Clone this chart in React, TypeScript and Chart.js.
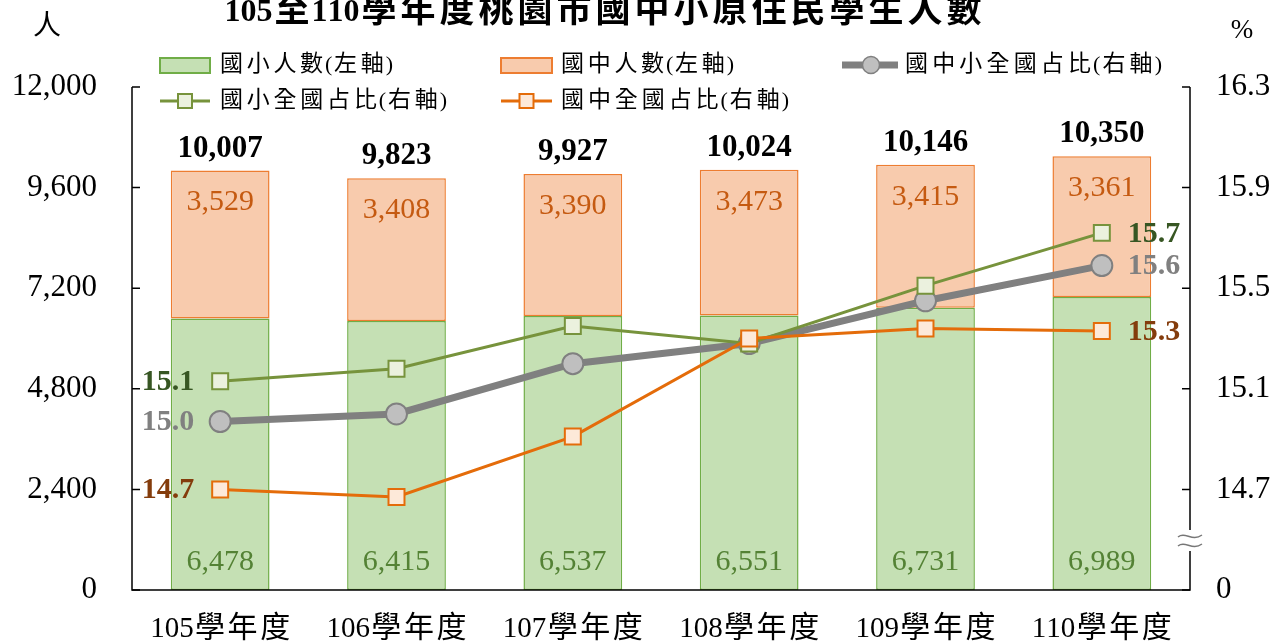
import React, { useEffect, useRef } from "react";
import { Chart, registerables } from "chart.js";
Chart.register(...registerables);

const categories = ["105學年度", "106學年度", "107學年度", "108學年度", "109學年度", "110學年度"];
const elementaryCounts = [6478, 6415, 6537, 6551, 6731, 6989];
const juniorCounts = [3529, 3408, 3390, 3473, 3415, 3361];
const totalShare = [14.97, 15.0, 15.2, 15.28, 15.45, 15.59];
const elementaryShare = [15.13, 15.18, 15.35, 15.28, 15.51, 15.72];
const juniorShare = [14.7, 14.67, 14.91, 15.3, 15.34, 15.33];
const leftTicks = [0, 2400, 4800, 7200, 9600, 12000];
const rightTicks = [14.3, 14.7, 15.1, 15.5, 15.9, 16.3];
const rightTickLabels = ["0", "14.7", "15.1", "15.5", "15.9", "16.3"];
const titleText = "105至110學年度桃園市國中小原住民學生人數";
const legendElementary = "國小人數(左軸)";
const legendJunior = "國中人數(左軸)";
const legendTotalShare = "國中小全國占比(右軸)";
const legendElemShare = "國小全國占比(右軸)";
const legendJuniorShare = "國中全國占比(右軸)";
const leftUnit = "人";
const rightUnit = "%";

const SERIF = '"Liberation Serif", "Noto Sans CJK TC"';

const isCJK = (c: string) => c.charCodeAt(0) > 0x2e80;

function drawSpaced(
  ctx: CanvasRenderingContext2D,
  text: string,
  x: number,
  y: number,
  target: number,
  align: "left" | "center",
  latinFont: string,
  cjkFont: string
) {
  const chars = Array.from(text);
  const fonts = chars.map((c) => (isCJK(c) ? cjkFont : latinFont));
  const widths = chars.map((c, i) => {
    ctx.font = fonts[i];
    return ctx.measureText(c).width;
  });
  const sum = widths.reduce((a, b) => a + b, 0);
  const weights: number[] = [];
  for (let i = 0; i < chars.length - 1; i++) {
    const a = isCJK(chars[i]);
    const b = isCJK(chars[i + 1]);
    weights.push(a && b ? 1 : a || b ? 0.5 : 0);
  }
  const wsum = weights.reduce((a, b) => a + b, 0);
  const unit = wsum > 0 ? (target - sum) / wsum : 0;
  let cx = align === "center" ? x - target / 2 : x;
  ctx.textAlign = "left";
  chars.forEach((c, i) => {
    ctx.font = fonts[i];
    ctx.fillText(c, cx, y);
    cx += widths[i] + (i < weights.length ? weights[i] * unit : 0);
  });
}

const fmt = (v: number) => v.toLocaleString("en-US");

export default function App() {
  const ref = useRef<HTMLCanvasElement | null>(null);
  useEffect(() => {
    document.body.style.margin = "0";
    const canvas = ref.current!;
    const totals = elementaryCounts.map((v, i) => v + juniorCounts[i]);

    const decor = {
      id: "decor",
      afterDatasetsDraw(chart: any) {
        const ctx: CanvasRenderingContext2D = chart.ctx;
        const area = chart.chartArea;
        const x = chart.scales.x;
        const y = chart.scales.y;
        const y1 = chart.scales.y1;
        ctx.save();
        ctx.textBaseline = "middle";

        // axes
        ctx.strokeStyle = "#000";
        ctx.lineWidth = 1.5;
        ctx.beginPath();
        ctx.moveTo(area.left, area.top);
        ctx.lineTo(area.left, area.bottom);
        ctx.lineTo(area.right, area.bottom);
        ctx.lineTo(area.right, area.top);
        ctx.stroke();
        ctx.beginPath();
        leftTicks.forEach((t) => {
          const py = y.getPixelForValue(t);
          ctx.moveTo(area.left, py);
          ctx.lineTo(area.left + 8, py);
        });
        rightTicks.forEach((t) => {
          const py = y1.getPixelForValue(t);
          ctx.moveTo(area.right, py);
          ctx.lineTo(area.right - 8, py);
        });
        ctx.stroke();

        // axis break
        ctx.fillStyle = "#fff";
        ctx.fillRect(area.right - 3, 530, 6, 21);
        ctx.strokeStyle = "#777";
        ctx.lineWidth = 1.5;
        [536, 545].forEach((by) => {
          ctx.beginPath();
          ctx.moveTo(area.right - 12, by + 1);
          ctx.bezierCurveTo(area.right - 5, by - 5, area.right + 2, by + 6, area.right + 12, by - 1);
          ctx.stroke();
        });

        // tick labels
        ctx.fillStyle = "#000";
        ctx.font = `31px ${SERIF}`;
        ctx.textAlign = "right";
        leftTicks.forEach((t) => {
          ctx.fillText(fmt(t), 97, y.getPixelForValue(t));
        });
        ctx.textAlign = "left";
        rightTicks.forEach((t, i) => {
          ctx.fillText(rightTickLabels[i], 1216, y1.getPixelForValue(t));
        });
        ctx.textAlign = "center";
        ctx.font = `28px ${SERIF}`;
        ctx.fillText(leftUnit, 47, 28);
        ctx.font = `27px ${SERIF}`;
        ctx.fillText(rightUnit, 1242, 31);

        // x labels
        categories.forEach((c, i) => {
          drawSpaced(ctx, c, x.getPixelForValue(i), 629, 140, "center", `29px ${SERIF}`, `30px ${SERIF}`);
        });

        // bar value labels
        categories.forEach((_, i) => {
          const px = x.getPixelForValue(i);
          ctx.textAlign = "center";
          ctx.font = `30px ${SERIF}`;
          ctx.fillStyle = "#548235";
          ctx.fillText(fmt(elementaryCounts[i]), px, y.getPixelForValue(0) - 28);
          ctx.fillStyle = "#C55A11";
          ctx.fillText(fmt(juniorCounts[i]), px, y.getPixelForValue(totals[i]) + 32);
          ctx.fillStyle = "#000";
          ctx.font = `bold 31px ${SERIF}`;
          ctx.fillText(fmt(totals[i]), px, y.getPixelForValue(totals[i]) - 22);
        });

        // line end labels
        ctx.font = `bold 30px ${SERIF}`;
        const last = categories.length - 1;
        const series = [
          { d: elementaryShare, c: "#375623" },
          { d: totalShare, c: "#808080" },
          { d: juniorShare, c: "#843C0C" },
        ];
        series.forEach((s) => {
          ctx.fillStyle = s.c;
          ctx.textAlign = "right";
          ctx.fillText(s.d[0].toFixed(1), x.getPixelForValue(0) - 26, y1.getPixelForValue(s.d[0]) + 1);
          ctx.textAlign = "left";
          ctx.fillText(s.d[last].toFixed(1), x.getPixelForValue(last) + 26, y1.getPixelForValue(s.d[last]) + 1);
        });

        // title
        ctx.fillStyle = "#000";
        drawSpaced(ctx, titleText, 603, 13, 757, "center", `bold 32px ${SERIF}`, `bold 35px ${SERIF}`);

        // legend
        const r1 = 65, r2 = 101;
        ctx.lineWidth = 2;
        ctx.fillStyle = "#C5E0B4";
        ctx.strokeStyle = "#70AD47";
        ctx.fillRect(160, r1 - 7, 50, 15);
        ctx.strokeRect(160, r1 - 7, 50, 15);
        ctx.fillStyle = "#F8CBAD";
        ctx.strokeStyle = "#ED7D31";
        ctx.fillRect(501, r1 - 7, 51, 15);
        ctx.strokeRect(501, r1 - 7, 51, 15);
        ctx.strokeStyle = "#808080";
        ctx.lineWidth = 7;
        ctx.beginPath();
        ctx.moveTo(842, r1);
        ctx.lineTo(898, r1);
        ctx.stroke();
        ctx.beginPath();
        ctx.arc(871, r1, 8.5, 0, Math.PI * 2);
        ctx.fillStyle = "#BFBFBF";
        ctx.fill();
        ctx.lineWidth = 1.5;
        ctx.stroke();
        const lineItem = (x0: number, x1: number, col: string, fill: string) => {
          ctx.strokeStyle = col;
          ctx.lineWidth = 3;
          ctx.beginPath();
          ctx.moveTo(x0, r2);
          ctx.lineTo(x1, r2);
          ctx.stroke();
          const cx = (x0 + x1) / 2;
          ctx.fillStyle = fill;
          ctx.lineWidth = 2;
          ctx.fillRect(cx - 7, r2 - 7, 14, 14);
          ctx.strokeRect(cx - 7, r2 - 7, 14, 14);
        };
        lineItem(160, 210, "#77933C", "#EBF1DE");
        lineItem(501, 552, "#E46C0A", "#FDE9D9");
        ctx.fillStyle = "#000";
        const lf = `22px ${SERIF}`;
        const cf = `23px ${SERIF}`;
        drawSpaced(ctx, legendElementary, 220, r1, 173, "left", lf, cf);
        drawSpaced(ctx, legendJunior, 561, r1, 173, "left", lf, cf);
        drawSpaced(ctx, legendTotalShare, 905, r1, 257, "left", lf, cf);
        drawSpaced(ctx, legendElemShare, 220, r2, 227, "left", lf, cf);
        drawSpaced(ctx, legendJuniorShare, 561, r2, 228, "left", lf, cf);

        ctx.restore();
      },
    };

    const chart = new Chart(canvas, {
      type: "bar",
      data: {
        labels: categories,
        datasets: [
          {
            type: "line",
            label: legendTotalShare,
            data: totalShare,
            yAxisID: "y1",
            borderColor: "#808080",
            borderWidth: 7,
            pointStyle: "circle",
            pointRadius: 10.5,
            pointBackgroundColor: "#BFBFBF",
            pointBorderColor: "#808080",
            pointBorderWidth: 2,
            order: 3,
          } as any,
          {
            type: "line",
            label: legendElemShare,
            data: elementaryShare,
            yAxisID: "y1",
            borderColor: "#77933C",
            borderWidth: 3,
            pointStyle: "rect",
            pointRadius: 11.3,
            pointBackgroundColor: "#EBF1DE",
            pointBorderColor: "#77933C",
            pointBorderWidth: 2,
            order: 2,
          },
          {
            type: "line",
            label: legendJuniorShare,
            data: juniorShare,
            yAxisID: "y1",
            borderColor: "#E46C0A",
            borderWidth: 3,
            pointStyle: "rect",
            pointRadius: 11.3,
            pointBackgroundColor: "#FDE9D9",
            pointBorderColor: "#E46C0A",
            pointBorderWidth: 2,
            order: 1,
          },
          {
            type: "bar",
            label: legendElementary,
            data: elementaryCounts,
            yAxisID: "y",
            backgroundColor: "#C5E0B4",
            borderColor: "#70AD47",
            borderWidth: 1.5,
            borderSkipped: false,
            categoryPercentage: 1,
            barPercentage: 0.56,
            stack: "s",
            order: 10,
          },
          {
            type: "bar",
            label: legendJunior,
            data: juniorCounts,
            yAxisID: "y",
            backgroundColor: "#F8CBAD",
            borderColor: "#ED7D31",
            borderWidth: 1.5,
            borderSkipped: false,
            categoryPercentage: 1,
            barPercentage: 0.56,
            stack: "s",
            order: 10,
          },
        ],
      },
      options: {
        responsive: false,
        animation: false,
        devicePixelRatio: 1,
        layout: { padding: { left: 132, right: 86, top: 87, bottom: 54 } },
        plugins: { legend: { display: false }, tooltip: { enabled: false }, title: { display: false } },
        scales: {
          x: { display: false, stacked: true, offset: true },
          y: { display: false, stacked: true, min: 0, max: 12000 },
          y1: { display: false, min: 14.3, max: 16.3, position: "right" },
        },
      },
      plugins: [decor],
    } as any);
    return () => chart.destroy();
  }, []);
  return (
    <div style={{ position: "absolute", left: 0, top: 0, width: 1276, height: 644 }}>
      <canvas ref={ref} width={1276} height={644} style={{ display: "block" }} />
    </div>
  );
}
